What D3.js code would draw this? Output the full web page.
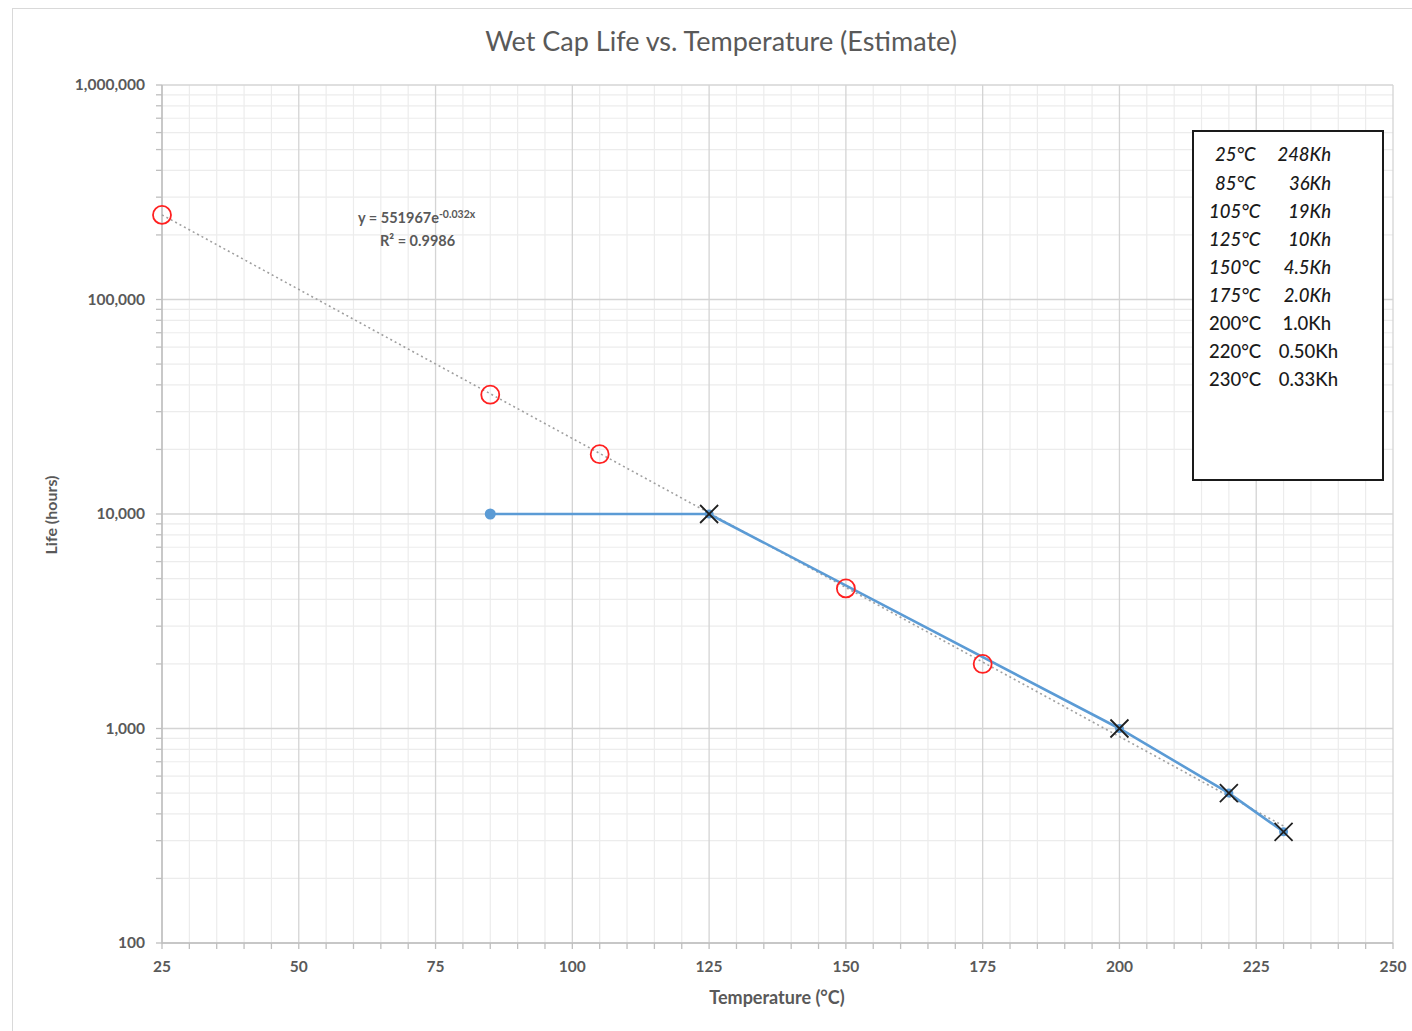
<!DOCTYPE html>
<html>
<head>
<meta charset="utf-8">
<script src="https://cdn.jsdelivr.net/npm/d3@7"></script>
<style>
  html, body { margin: 0; padding: 0; background: #ffffff; }
  svg { display: block; font-family: Lato, "Open Sans", sans-serif; }
</style>
</head>
<body>
<svg id="chart" width="1412" height="1031"></svg>
<script>
// ---------------- data ----------------
const measuredTemps = [25, 85, 105, 150, 175];
const measuredLife  = [248000, 36000, 19000, 4500, 2000];

const curveTemps = [85, 125, 200, 220, 230];
const curveLife  = [10000, 10000, 1000, 500, 330];
const curveMarkers = ["dot", "x", "x", "x", "x"];

const trendTemps = [25, 230];
const trendLife  = [248010, 351];
const trendEquation = "y = 551967e";
const trendExponent = "-0.032x";
const trendR2 = "R² = 0.9986";

const xTickValues = [25, 50, 75, 100, 125, 150, 175, 200, 225, 250];
const yTickValues = [100, 1000, 10000, 100000, 1000000];

const legendTemps = ["25°C", "85°C", "105°C", "125°C", "150°C", "175°C", "200°C", "220°C", "230°C"];
const legendLife  = ["248Kh", "36Kh", "19Kh", "10Kh", "4.5Kh", "2.0Kh", "1.0Kh", "0.50Kh", "0.33Kh"];
const legendItalic = [true, true, true, true, true, true, false, false, false];

const titleText = "Wet Cap Life vs. Temperature (Estimate)";
const xTitle = "Temperature (°C)";
const yTitle = "Life (hours)";

// ---------------- layout ----------------
const svg = d3.select("#chart");
const L = 162, R = 1393, T = 85, B = 943;
const x = d3.scaleLinear().domain([25, 250]).range([L, R]);
const y = d3.scaleLog().domain([100, 1000000]).range([B, T]);
const textCol = "#595959";

// outer chart border
svg.append("rect").attr("x", 12.5).attr("y", 8.5).attr("width", 1420).attr("height", 1040)
  .attr("fill", "#fff").attr("stroke", "#d9d9d9").attr("stroke-width", 1);

// minor values
const xMinor = d3.range(25, 250.001, 5);
const yMinor = [];
yTickValues.slice(0, -1).forEach(d => { for (let k = 2; k <= 9; k++) yMinor.push(d * k); });

const grid = svg.append("g");
grid.selectAll(".vx").data(xMinor.filter(v => !xTickValues.includes(v))).join("line")
  .attr("x1", d => x(d)).attr("x2", d => x(d)).attr("y1", T).attr("y2", B)
  .attr("stroke", "#ececec").attr("stroke-width", 1.2);
grid.selectAll(".hy").data(yMinor).join("line")
  .attr("x1", L).attr("x2", R).attr("y1", d => y(d)).attr("y2", d => y(d))
  .attr("stroke", "#ececec").attr("stroke-width", 1.2);
grid.selectAll(".VX").data(xTickValues).join("line")
  .attr("x1", d => x(d)).attr("x2", d => x(d)).attr("y1", T).attr("y2", B)
  .attr("stroke", "#d4d4d4").attr("stroke-width", 1.3);
grid.selectAll(".HY").data(yTickValues).join("line")
  .attr("x1", L).attr("x2", R).attr("y1", d => y(d)).attr("y2", d => y(d))
  .attr("stroke", "#d4d4d4").attr("stroke-width", 1.3);

// axes lines and ticks
const axisCol = "#bfbfbf";
svg.append("line").attr("x1", L).attr("x2", L).attr("y1", T).attr("y2", B + 0.5)
  .attr("stroke", axisCol).attr("stroke-width", 1.5);
svg.append("line").attr("x1", L).attr("x2", R).attr("y1", B).attr("y2", B)
  .attr("stroke", axisCol).attr("stroke-width", 1.5);
svg.selectAll(".ytk").data(yTickValues.concat(yMinor)).join("line")
  .attr("x1", L - 6).attr("x2", L).attr("y1", d => y(d)).attr("y2", d => y(d))
  .attr("stroke", axisCol).attr("stroke-width", 1.3);
svg.selectAll(".xtk").data(xMinor).join("line")
  .attr("x1", d => x(d)).attr("x2", d => x(d)).attr("y1", B).attr("y2", B + 6)
  .attr("stroke", axisCol).attr("stroke-width", 1.3);

// tick labels
const fmt = d3.format(",");
svg.selectAll(".ylab").data(yTickValues).join("text")
  .attr("x", 145).attr("y", d => y(d)).attr("dy", "0.35em")
  .attr("text-anchor", "end").attr("font-size", 15.5).attr("font-weight", "bold").attr("fill", textCol)
  .text(d => fmt(d));
svg.selectAll(".xlab").data(xTickValues).join("text")
  .attr("x", d => x(d)).attr("y", 967).attr("dy", "0.35em")
  .attr("text-anchor", "middle").attr("font-size", 15.5).attr("font-weight", "bold").attr("fill", textCol)
  .text(d => d);

// titles
svg.append("text").attr("x", 721).attr("y", 51).attr("text-anchor", "middle")
  .attr("font-size", 27).attr("fill", textCol).text(titleText);
svg.append("text").attr("x", 777).attr("y", 1004).attr("text-anchor", "middle")
  .attr("font-size", 18).attr("font-weight", "bold").attr("fill", textCol).text(xTitle);
svg.append("text").attr("transform", "translate(57,515) rotate(-90)").attr("text-anchor", "middle")
  .attr("font-size", 16).attr("font-weight", "bold").attr("fill", textCol).text(yTitle);

// trendline (dotted)
svg.append("path")
  .attr("d", d3.line().x(d => x(d[0])).y(d => y(d[1]))(d3.zip(trendTemps, trendLife)))
  .attr("fill", "none").attr("stroke", "#a0a0a0").attr("stroke-width", 1.6)
  .attr("stroke-dasharray", "2,3");

// equation label
const eq = svg.append("text").attr("x", 358).attr("y", 223).attr("font-size", 14.5)
  .attr("font-weight", "bold").attr("fill", textCol);
eq.append("tspan").text(trendEquation);
eq.append("tspan").attr("dy", -5).attr("font-size", 10.5).text(trendExponent);
svg.append("text").attr("x", 380).attr("y", 246).attr("font-size", 14.5).attr("font-weight", "bold")
  .attr("fill", textCol).text(trendR2);

// blue curve
const blue = "#5b9bd5";
const curve = d3.zip(curveTemps, curveLife, curveMarkers);
svg.append("path")
  .attr("d", d3.line().x(d => x(d[0])).y(d => y(d[1]))(curve))
  .attr("fill", "none").attr("stroke", blue).attr("stroke-width", 2.6);
svg.selectAll(".bdot").data(curve).join("circle")
  .attr("cx", d => x(d[0])).attr("cy", d => y(d[1]))
  .attr("r", d => d[2] === "dot" ? 5.5 : 4.5).attr("fill", blue);
const xs = 9;
svg.selectAll(".xm").data(curve.filter(d => d[2] === "x")).join("path")
  .attr("d", d => {
    const cx = x(d[0]), cy = y(d[1]);
    return `M${cx - xs},${cy - xs}L${cx + xs},${cy + xs}M${cx - xs},${cy + xs}L${cx + xs},${cy - xs}`;
  })
  .attr("stroke", "#1f1f1f").attr("stroke-width", 1.8).attr("fill", "none");

// measured red circles
svg.selectAll(".rc").data(d3.zip(measuredTemps, measuredLife)).join("circle")
  .attr("cx", d => x(d[0])).attr("cy", d => y(d[1])).attr("r", 9)
  .attr("fill", "none").attr("stroke", "#ff2020").attr("stroke-width", 1.8);

// legend box
svg.append("rect").attr("x", 1193).attr("y", 131).attr("width", 190).attr("height", 349)
  .attr("fill", "#fff").attr("stroke", "#1a1a1a").attr("stroke-width", 2);
const lg = svg.append("g");
legendTemps.forEach((t, i) => {
  const yy = 155 + i * 28.1;
  const it = legendItalic[i];
  lg.append("text").attr("x", t.length > 4 ? 1209 : 1215).attr("y", yy).attr("dy", "0.35em")
    .attr("font-size", 18.5).attr("font-style", it ? "italic" : "normal").attr("font-weight", 500)
    .attr("fill", "#1a1a1a").text(t);
  lg.append("text").attr("x", legendLife[i].length > 5 ? 1338 : 1331).attr("y", yy).attr("dy", "0.35em")
    .attr("text-anchor", "end")
    .attr("font-size", 18.5).attr("font-style", it ? "italic" : "normal").attr("font-weight", 500)
    .attr("fill", "#1a1a1a").text(legendLife[i]);
});
</script>
</body>
</html>
